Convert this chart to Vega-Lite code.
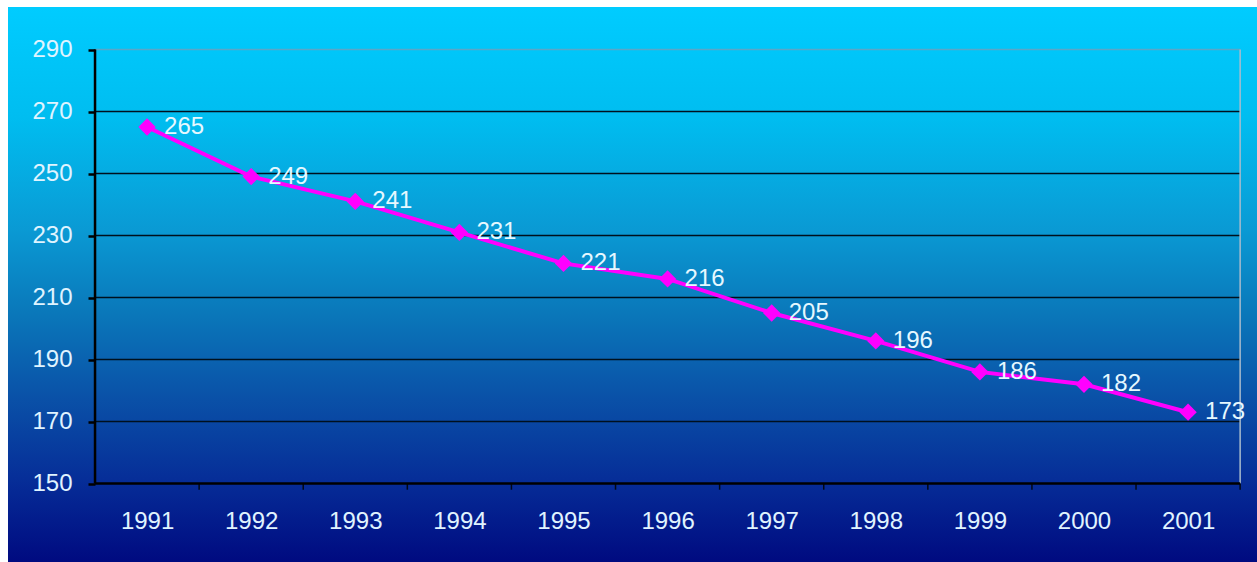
{
  "$schema": "https://vega.github.io/schema/vega-lite/v6.json",
  "width": 1249,
  "height": 555,
  "autosize": {"type": "none"},
  "padding": {"left": 8, "top": 7, "right": 0, "bottom": 0},
  "background": "#ffffff",
  "config": {
    "view": {"stroke": null},
    "axis": {"grid": false, "domain": false, "title": null, "zindex": 1, "labelFont": "Liberation Sans", "labelFontSize": 24, "labelColor": "#E0F4FF", "labelFlush": false, "labelOverlap": false}
  },
  "datasets": {
    "series": [
      {"year": 1991, "value": 265},
      {"year": 1992, "value": 249},
      {"year": 1993, "value": 241},
      {"year": 1994, "value": 231},
      {"year": 1995, "value": 221},
      {"year": 1996, "value": 216},
      {"year": 1997, "value": 205},
      {"year": 1998, "value": 196},
      {"year": 1999, "value": 186},
      {"year": 2000, "value": 182},
      {"year": 2001, "value": 173}
    ],
    "grid": [{"v": 170}, {"v": 190}, {"v": 210}, {"v": 230}, {"v": 250}, {"v": 270}],
    "ticks": [{"t": 1991.5}, {"t": 1992.5}, {"t": 1993.5}, {"t": 1994.5}, {"t": 1995.5}, {"t": 1996.5}, {"t": 1997.5}, {"t": 1998.5}, {"t": 1999.5}, {"t": 2000.5}, {"t": 2001.5}],
    "one": [{"k": 1}]
  },
  "layer": [
    {
      "data": {"name": "one"},
      "mark": {"type": "rect", "color": {"gradient": "linear", "x1": 0, "y1": 0, "x2": 0, "y2": 1, "stops": [
        {"offset": 0, "color": "#00CCFF"},
        {"offset": 0.2, "color": "#00BDF0"},
        {"offset": 0.4, "color": "#0A9AD4"},
        {"offset": 0.55, "color": "#0A78BA"},
        {"offset": 0.7, "color": "#0A52A8"},
        {"offset": 0.85, "color": "#062E98"},
        {"offset": 1, "color": "#000A80"}
      ]}},
      "encoding": {
        "x": {"datum": 1989.664, "type": "quantitative", "scale": {"domain": [1989.664, 2001.662], "nice": false, "zero": false}},
        "x2": {"datum": 2001.662},
        "y": {"datum": 124.68, "type": "quantitative", "scale": {"domain": [124.68, 303.71], "nice": false, "zero": false}},
        "y2": {"datum": 303.71}
      }
    },
    {
      "data": {"name": "grid"},
      "mark": {"type": "rule", "color": "#00101e", "strokeWidth": 1.5},
      "encoding": {
        "x": {"datum": 1990.5, "type": "quantitative", "scale": {"domain": [1989.664, 2001.662], "nice": false, "zero": false}},
        "x2": {"datum": 2001.5},
        "y": {"field": "v", "type": "quantitative", "scale": {"domain": [124.68, 303.71], "nice": false, "zero": false}}
      }
    },
    {
      "data": {"name": "one"},
      "mark": {"type": "rule", "color": "#5aa6c8", "strokeWidth": 1.5},
      "encoding": {
        "x": {"datum": 1990.5, "type": "quantitative", "scale": {"domain": [1989.664, 2001.662], "nice": false, "zero": false}},
        "x2": {"datum": 2001.5},
        "y": {"datum": 290, "type": "quantitative", "scale": {"domain": [124.68, 303.71], "nice": false, "zero": false}}
      }
    },
    {
      "data": {"name": "one"},
      "mark": {"type": "rule", "color": "#a9bccd", "strokeWidth": 1.5},
      "encoding": {
        "x": {"datum": 2001.5, "type": "quantitative", "scale": {"domain": [1989.664, 2001.662], "nice": false, "zero": false}},
        "y": {"datum": 150, "type": "quantitative", "scale": {"domain": [124.68, 303.71], "nice": false, "zero": false}},
        "y2": {"datum": 290}
      }
    },
    {
      "data": {"name": "ticks"},
      "mark": {"type": "rule", "color": "#000818", "strokeWidth": 1.5},
      "encoding": {
        "x": {"field": "t", "type": "quantitative", "scale": {"domain": [1989.664, 2001.662], "nice": false, "zero": false}},
        "y": {"datum": 150, "type": "quantitative", "scale": {"domain": [124.68, 303.71], "nice": false, "zero": false}},
        "y2": {"datum": 148}
      }
    },
    {
      "data": {"name": "one"},
      "mark": {"type": "rule", "color": "#000000", "strokeWidth": 2.5},
      "encoding": {
        "x": {"datum": 1990.5, "type": "quantitative", "scale": {"domain": [1989.664, 2001.662], "nice": false, "zero": false}},
        "y": {"datum": 150, "type": "quantitative", "scale": {"domain": [124.68, 303.71], "nice": false, "zero": false}},
        "y2": {"datum": 290}
      }
    },
    {
      "data": {"name": "one"},
      "mark": {"type": "rule", "color": "#000000", "strokeWidth": 2.5},
      "encoding": {
        "x": {"datum": 1990.5, "type": "quantitative", "scale": {"domain": [1989.664, 2001.662], "nice": false, "zero": false}},
        "x2": {"datum": 2001.5},
        "y": {"datum": 150, "type": "quantitative", "scale": {"domain": [124.68, 303.71], "nice": false, "zero": false}}
      }
    },
    {
      "data": {"name": "series"},
      "mark": {"type": "line", "color": "#FF00FF", "strokeWidth": 4},
      "encoding": {
        "x": {"field": "year", "type": "quantitative", "scale": {"domain": [1989.664, 2001.662], "nice": false, "zero": false}},
        "y": {"field": "value", "type": "quantitative", "scale": {"domain": [124.68, 303.71], "nice": false, "zero": false}}
      }
    },
    {
      "data": {"name": "series"},
      "mark": {"type": "point", "shape": "diamond", "filled": true, "size": 300, "color": "#FF00FF", "opacity": 1},
      "encoding": {
        "x": {"field": "year", "type": "quantitative", "scale": {"domain": [1989.664, 2001.662], "nice": false, "zero": false},
          "axis": {"values": [1991, 1992, 1993, 1994, 1995, 1996, 1997, 1998, 1999, 2000, 2001], "orient": "bottom", "offset": -78.7, "ticks": false, "tickSize": 0, "domain": false, "grid": false, "format": "d", "title": null, "labelBaseline": "middle", "labelPadding": 38, "zindex": 1}},
        "y": {"field": "value", "type": "quantitative", "scale": {"domain": [124.68, 303.71], "nice": false, "zero": false},
          "axis": {"values": [150, 170, 190, 210, 230, 250, 270, 290], "orient": "left", "offset": -87, "domain": false, "grid": false, "ticks": true, "tickSize": 7, "tickColor": "#000000", "tickWidth": 2.5, "labelPadding": 16, "title": null, "zindex": 1}}
      }
    },
    {
      "data": {"name": "series"},
      "mark": {"type": "text", "align": "left", "baseline": "middle", "dx": 17, "dy": 0, "font": "Liberation Sans", "fontSize": 24, "color": "#E6F8FF"},
      "encoding": {
        "x": {"field": "year", "type": "quantitative", "scale": {"domain": [1989.664, 2001.662], "nice": false, "zero": false}},
        "y": {"field": "value", "type": "quantitative", "scale": {"domain": [124.68, 303.71], "nice": false, "zero": false}},
        "text": {"field": "value", "type": "quantitative"}
      }
    }
  ]
}
